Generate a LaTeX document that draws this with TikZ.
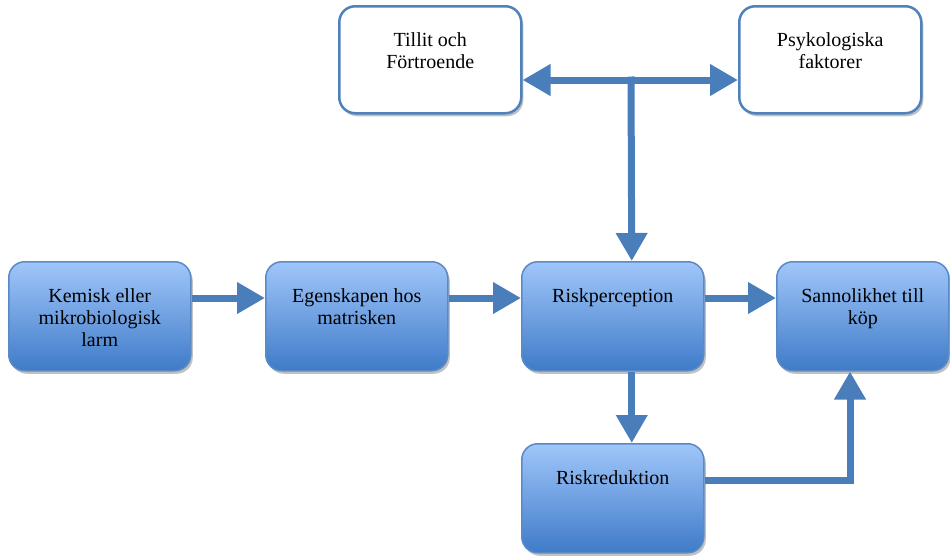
\documentclass[tikz,border=0pt]{standalone}
\usepackage{fontspec}
\setmainfont{Liberation Serif}
\usetikzlibrary{arrows.meta,shadows}
\definecolor{arrowblue}{HTML}{4A7EBB}
\definecolor{boxtop}{HTML}{A0C6FA}
\definecolor{boxbot}{HTML}{3F7BC8}
\definecolor{boxedge}{HTML}{5A8AC6}
\definecolor{whiteedge}{HTML}{4F81BD}
\tikzset{
  boxshadow/.style={drop shadow={shadow xshift=2pt, shadow yshift=-3pt, opacity=0.35, fill=black!70}},
  bluebox/.style={draw=boxedge, line width=1.5pt, rounded corners=16pt,
    top color=boxtop, bottom color=boxbot, minimum width=182pt, minimum height=109pt,
    anchor=north west, inner sep=0pt, boxshadow},
  whitebox/.style={draw=whiteedge, line width=2.5pt, rounded corners=16pt, fill=white,
    minimum width=182pt, minimum height=107pt, anchor=north west, inner sep=0pt, boxshadow},
  lbl/.style={anchor=north, align=center, inner sep=0pt, font=\fontsize{20pt}{22pt}\selectfont},
  conn/.style={draw=arrowblue, line width=7pt, -{Triangle[width=30pt,length=28pt]}},
  plainline/.style={draw=arrowblue, line width=7pt},
}
\begin{document}
\begin{tikzpicture}[x=1pt,y=-1pt]
\useasboundingbox (0,0) rectangle (950,555);
% boxes
\node[bluebox] (b1) at (8,261) {};
\node[bluebox] (b2) at (265,261) {};
\node[bluebox] (b3) at (521,261) {};
\node[bluebox, minimum width=172pt] (b4) at (776,261) {};
\node[bluebox] (b5) at (521,443) {};
\node[whitebox] (t1) at (338,5) {};
\node[whitebox] (t2) at (738,5) {};
% labels
\node[lbl] (l1) at ([yshift=-27pt]b1.north) {Kemisk eller\\mikrobiologisk\\larm};
\node[lbl] (l2) at ([yshift=-27pt]b2.north) {Egenskapen hos\\matrisken};
\node[lbl] (l3) at ([yshift=-27pt]b3.north) {Riskperception};
\node[lbl] (l4) at ([yshift=-27pt]b4.north) {Sannolikhet till\\köp};
\node[lbl] (l5) at ([yshift=-27pt]b5.north) {Riskreduktion};
\node[lbl] (l6) at ([yshift=-27pt]t1.north) {Tillit och\\Förtroende};
\node[lbl] (l7) at ([yshift=-27pt]t2.north) {Psykologiska\\faktorer};
% connectors
\coordinate (jn) at (631,80);
\draw[conn] ([yshift=-37pt]b1.north east) -- ([yshift=-37pt]b2.north west);
\draw[conn] ([yshift=-37pt]b2.north east) -- ([yshift=-37pt]b3.north west);
\draw[conn] ([yshift=-37pt]b3.north east) -- ([yshift=-37pt]b4.north west);
\draw[conn] ([xshift=19pt]b3.south) -- ([xshift=19pt]b5.north);
\draw[conn] ([yshift=-37pt]b5.north east) -| ([xshift=74pt]b4.south west);
\draw[conn] ([yshift=3.5pt]jn) -- ([xshift=19pt]b3.north);
\draw[conn] (jn) -- ([yshift=-75pt]t1.north east);
\draw[conn] (jn) -- ([yshift=-75pt]t2.north west);
\end{tikzpicture}
\end{document}
